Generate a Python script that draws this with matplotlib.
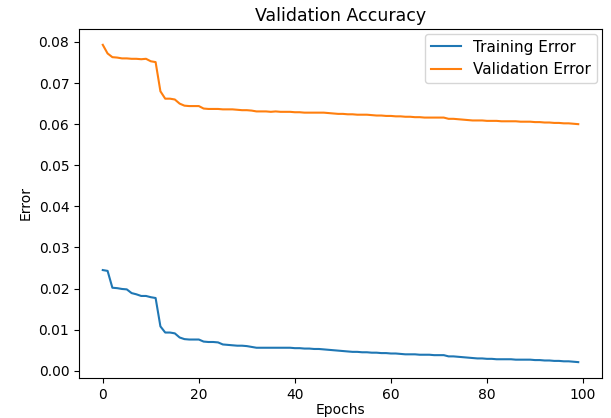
import matplotlib
matplotlib.use("Agg")
import matplotlib.pyplot as plt

epochs = list(range(100))

train_error = [
    0.0245, 0.0243, 0.0202, 0.0201, 0.0199, 0.0198, 0.0189, 0.0186, 0.0182, 0.0182,
    0.0179, 0.0177, 0.0108, 0.0093, 0.0093, 0.0091, 0.0081, 0.0077, 0.0076, 0.0076,
    0.0076, 0.0071, 0.0070, 0.0070, 0.0069, 0.0064, 0.0063, 0.0062, 0.0061, 0.0061,
    0.0060, 0.0058, 0.0056, 0.0056, 0.0056, 0.0056, 0.0056, 0.0056, 0.0056, 0.0056,
    0.0055, 0.0055, 0.0054, 0.0054, 0.0053, 0.0053, 0.0052, 0.0051, 0.0050, 0.0049,
    0.0048, 0.0047, 0.0046, 0.0046, 0.0045, 0.0045, 0.0044, 0.0044, 0.0043, 0.0043,
    0.0042, 0.0042, 0.0041, 0.0040, 0.0040, 0.0040, 0.0039, 0.0039, 0.0039, 0.0038,
    0.0038, 0.0038, 0.0035, 0.0035, 0.0034, 0.0033, 0.0032, 0.0031, 0.0030, 0.0030,
    0.0029, 0.0029, 0.0028, 0.0028, 0.0028, 0.0028, 0.0027, 0.0027, 0.0027, 0.0027,
    0.0026, 0.0026, 0.0025, 0.0025, 0.0024, 0.0024, 0.0023, 0.0023, 0.0022, 0.0021,
]

val_error = [
    0.0793, 0.0772, 0.0763, 0.0762, 0.0760, 0.0760, 0.0759, 0.0759, 0.0758, 0.0759,
    0.0753, 0.0751, 0.0680, 0.0662, 0.0662, 0.0660, 0.0650, 0.0645, 0.0644, 0.0644,
    0.0644, 0.0638, 0.0637, 0.0637, 0.0637, 0.0636, 0.0636, 0.0636, 0.0635, 0.0634,
    0.0634, 0.0633, 0.0631, 0.0631, 0.0631, 0.0630, 0.0631, 0.0630, 0.0630, 0.0630,
    0.0629, 0.0629, 0.0628, 0.0628, 0.0628, 0.0628, 0.0628, 0.0627, 0.0626, 0.0625,
    0.0625, 0.0624, 0.0624, 0.0623, 0.0623, 0.0623, 0.0622, 0.0621, 0.0621, 0.0620,
    0.0620, 0.0619, 0.0619, 0.0618, 0.0618, 0.0617, 0.0617, 0.0616, 0.0616, 0.0616,
    0.0616, 0.0616, 0.0613, 0.0613, 0.0612, 0.0611, 0.0610, 0.0609, 0.0609, 0.0609,
    0.0608, 0.0608, 0.0608, 0.0607, 0.0607, 0.0607, 0.0607, 0.0606, 0.0606, 0.0606,
    0.0605, 0.0605, 0.0604, 0.0604, 0.0603, 0.0603, 0.0602, 0.0602, 0.0601, 0.0600,
]

fig = plt.figure(figsize=(6.11, 4.18), dpi=100)
ax = fig.add_axes([0.1293, 0.0957, 0.856, 0.835])

ax.plot(epochs, train_error, label="Training Error")
ax.plot(epochs, val_error, label="Validation Error")
ax.set_title("Validation Accuracy", fontsize=12.5)
ax.set_xlabel("Epochs", labelpad=1)
ax.set_ylabel("Error")
ax.legend(fontsize=11, borderaxespad=0.3)

fig.savefig("out.png", dpi=100)
